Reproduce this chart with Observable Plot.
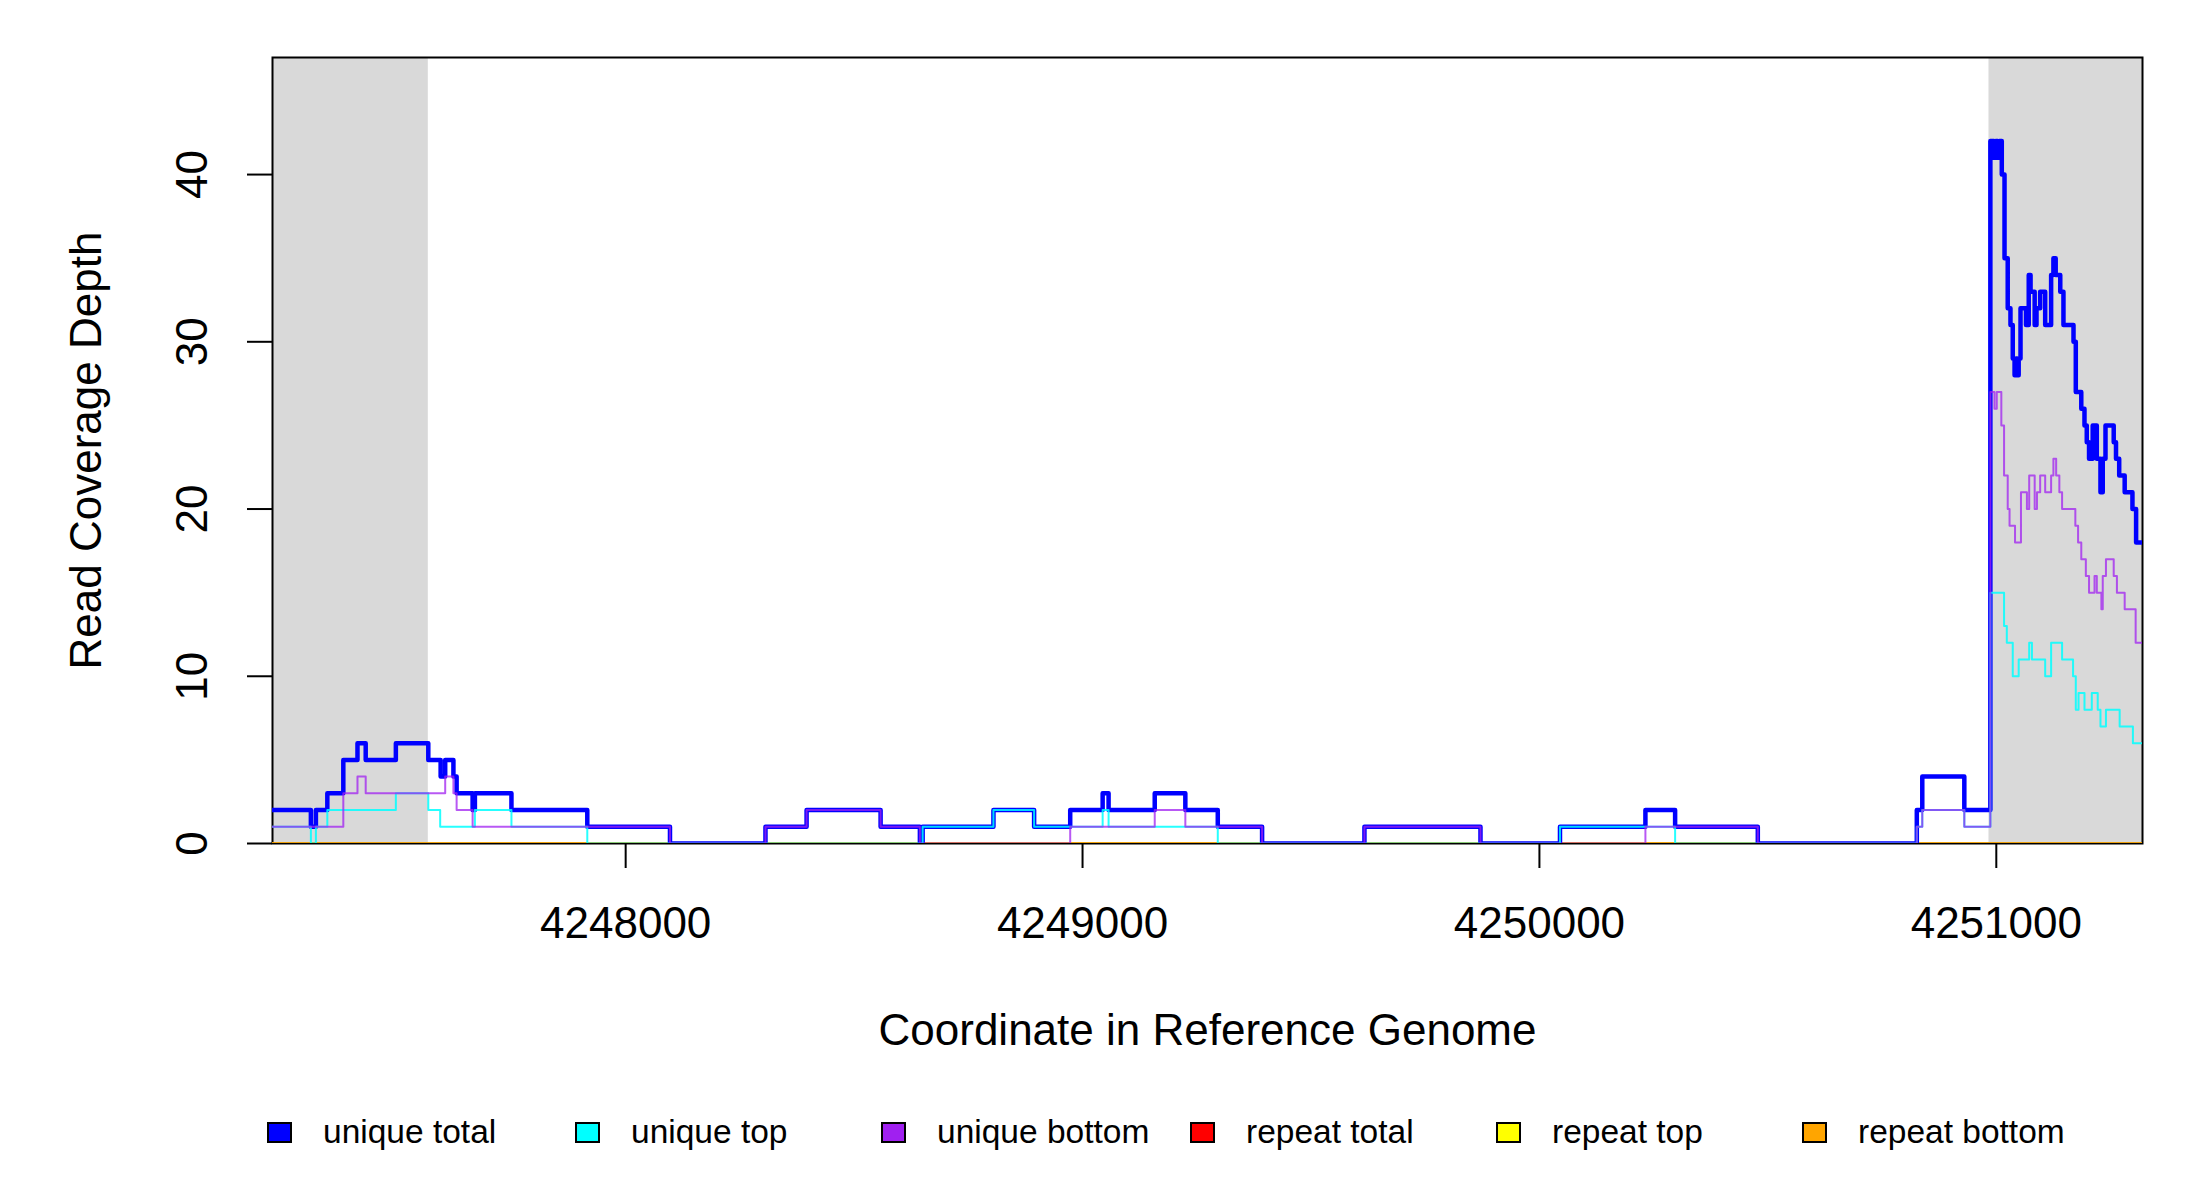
<!DOCTYPE html>
<html><head><meta charset="utf-8">
<script src="https://cdn.jsdelivr.net/npm/d3@7"></script>
<script src="https://cdn.jsdelivr.net/npm/@observablehq/plot@0.6"></script>
<style>
body{margin:0;background:#fff;font-family:"Liberation Sans",Arial,sans-serif;}
#wrap{width:2200px;}
#legend{position:relative;width:2200px;height:110px;}
.item{position:absolute;top:0;height:84px;display:flex;align-items:center;font-size:33.5px;color:#000;white-space:nowrap;}
.sw{width:25px;height:21px;border:2px solid #000;box-sizing:border-box;margin-right:31px;}
</style></head><body>
<div id="wrap"><div id="chart"></div><div id="legend"></div></div>
<script>
// ---- axes / ranges ----
const xMin = 4247227, xMax = 4251320;
const yMax = 47;
const xTicks = [4248000, 4249000, 4250000, 4251000];
const yTicks = [0, 10, 20, 30, 40];
const xTitle = "Coordinate in Reference Genome";
const yTitle = "Read Coverage Depth";

// ---- grey flanking regions ----
const shadeStart = [4247227, 4250984];
const shadeEnd   = [4247568, 4251320];

// ---- unique total (step starts, depth) ----
const totalPos = [4247227,4247311,4247322,4247347,4247382,4247413,4247431,4247497,4247568,4247595,4247605,4247623,4247630,4247665,4247670,4247750,4247916,4248097,4248306,4248396,4248558,4248644,4248650,4248805,4248894,4248973,4249044,4249057,4249158,4249225,4249296,4249393,4249617,4249871,4250045,4250232,4250297,4250478,4250826,4250838,4250930,4250987,4250995,4250999,4251003,4251007,4251012,4251018,4251025,4251031,4251036,4251040,4251043,4251046,4251049,4251053,4251065,4251071,4251075,4251084,4251088,4251096,4251107,4251120,4251125,4251130,4251140,4251147,4251169,4251174,4251186,4251193,4251198,4251203,4251211,4251220,4251228,4251233,4251239,4251257,4251262,4251269,4251281,4251298,4251306,4251320];
const totalDepth = [2,1,2,3,5,6,5,6,5,4,5,4,3,2,3,2,1,0,1,2,1,0,1,2,1,2,3,2,3,2,1,0,1,0,1,2,1,0,2,4,2,42,41,42,41,42,40,35,32,31,29,28,29,28,29,32,31,34,33,31,32,33,31,34,35,34,33,31,30,27,26,25,24,23,25,23,21,23,25,24,23,22,21,20,18,18];

// ---- unique top ----
const topPos = [4247227,4247311,4247322,4247347,4247497,4247568,4247594,4247670,4247750,4247916,4248650,4248805,4248894,4249044,4249057,4249296,4250045,4250297,4250826,4250838,4250930,4250987,4251017,4251023,4251036,4251049,4251072,4251078,4251107,4251120,4251144,4251168,4251174,4251180,4251193,4251209,4251222,4251228,4251240,4251270,4251299,4251320];
const topDepth = [1,0,1,2,3,2,1,2,1,0,1,2,1,2,1,0,1,0,1,2,1,15,13,12,10,11,12,11,10,12,11,10,8,9,8,9,8,7,8,7,6,6];

// ---- unique bottom ----
const bottomPos = [4247227,4247382,4247413,4247431,4247605,4247623,4247630,4247665,4248097,4248306,4248396,4248558,4248644,4248973,4249158,4249225,4249393,4249617,4249871,4250232,4250478,4250826,4250838,4250930,4250987,4250996,4251001,4251011,4251017,4251025,4251029,4251041,4251054,4251067,4251072,4251084,4251089,4251096,4251107,4251120,4251125,4251131,4251138,4251144,4251173,4251179,4251186,4251196,4251203,4251215,4251220,4251230,4251233,4251240,4251257,4251264,4251281,4251305,4251320];
const bottomDepth = [1,3,4,3,4,3,2,1,0,1,2,1,0,1,2,1,0,1,0,1,0,1,2,1,27,26,27,25,22,20,19,18,21,20,22,20,21,22,21,22,23,22,21,20,19,18,17,16,15,16,15,14,16,17,16,15,14,12,12];

// ---- repeat series (all zero) ----
const repeatPos = [4247227, 4251320];
const repeatTotal = [0, 0];
const repeatTop = [0, 0];
const repeatBottom = [0, 0];

// ---- legend ----
const legendNames  = ["unique total","unique top","unique bottom","repeat total","repeat top","repeat bottom"];
const legendColors = ["#0000FF","#00FFFF","#A020F0","#FF0000","#FFFF00","#FFA500"];

const rows = (pos, val) => pos.map((p, i) => ({pos: p, val: val[i]}));
const seriesDraw = [
  {rows: rows(repeatPos, repeatTotal),  color: "#FF0000", w: 2,   o: 1},
  {rows: rows(repeatPos, repeatTop),    color: "#FFFF00", w: 2,   o: 1},
  {rows: rows(repeatPos, repeatBottom), color: "#FFA500", w: 2,   o: 1},
  {rows: rows(totalPos, totalDepth),    color: "#0000FF", w: 4.5, o: 1},
  {rows: rows(topPos, topDepth),        color: "#00FFFF", w: 2,   o: 0.85},
  {rows: rows(bottomPos, bottomDepth),  color: "#A020F0", w: 2,   o: 0.75}
];

const chart = Plot.plot({
  width: 2200,
  height: 1090,
  marginLeft: 272,
  marginRight: 58,
  marginTop: 57,
  marginBottom: 247,
  style: {fontFamily: "'Liberation Sans', Arial, sans-serif", fontSize: "44px", color: "#000", background: "#fff"},
  x: {domain: [xMin, xMax], label: null},
  y: {domain: [0, yMax], label: null},
  marks: [
    Plot.rect(shadeStart.map((s, i) => ({a: s, b: shadeEnd[i]})), {x1: "a", x2: "b", fill: "#D9D9D9"}),
    Plot.frame({stroke: "#000", strokeWidth: 2}),
    ...seriesDraw.map(s => Plot.line(s.rows, {x: "pos", y: "val", curve: "step-after", stroke: s.color, strokeWidth: s.w, strokeOpacity: s.o, clip: true})),
    Plot.axisX({ticks: xTicks, tickSize: 25, tickPadding: 38, tickFormat: d => String(d), fontSize: 44, strokeWidth: 2, label: null}),
    Plot.axisY({ticks: yTicks, tickSize: 25, tickFormat: () => "", strokeWidth: 2, label: null}),
    Plot.text(yTicks, {y: d => d, text: d => String(d), frameAnchor: "left", textAnchor: "middle", lineAnchor: "middle", dx: -79.5, rotate: -90, fontSize: 44}),
    Plot.text([xTitle], {text: d => d, frameAnchor: "bottom", textAnchor: "middle", lineAnchor: "middle", dy: 187, fontSize: 44}),
    Plot.text([yTitle], {text: d => d, frameAnchor: "left", textAnchor: "middle", lineAnchor: "middle", dx: -186, rotate: -90, fontSize: 44})
  ]
});
document.getElementById("chart").appendChild(chart);

const boxX = [267, 575, 881, 1190, 1496, 1802];
const leg = document.getElementById("legend");
legendNames.forEach((n, i) => {
  const it = document.createElement("div");
  it.className = "item";
  it.style.left = boxX[i] + "px";
  const sw = document.createElement("div");
  sw.className = "sw";
  sw.style.background = legendColors[i];
  const tx = document.createElement("span");
  tx.textContent = n;
  it.appendChild(sw); it.appendChild(tx);
  leg.appendChild(it);
});
</script>
</body></html>
